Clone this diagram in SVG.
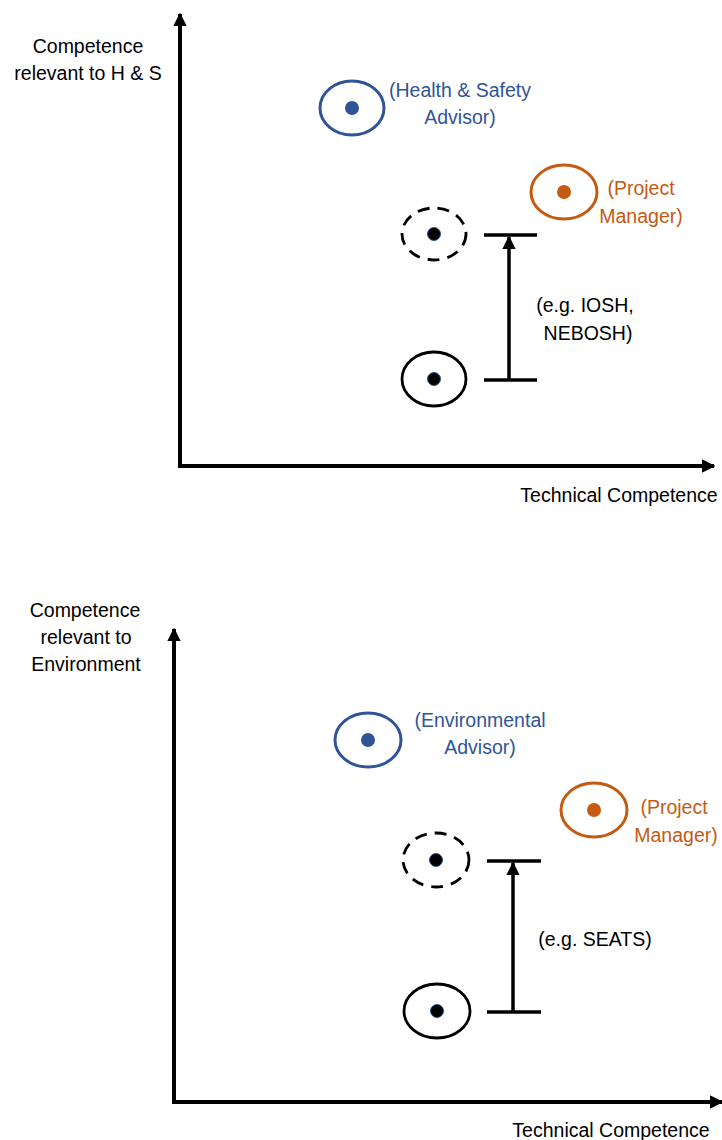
<svg xmlns="http://www.w3.org/2000/svg" width="722" height="1140" viewBox="0 0 722 1140">
<style>
text{font-family:"Liberation Sans",Arial,sans-serif;font-size:19.5px;text-anchor:middle}
.k{fill:#000}
.b{fill:#2F5597}
.o{fill:#C55A11}
.axis{stroke:#000;stroke-width:4;fill:none}
.bar{stroke:#000;stroke-width:3.5;fill:none}
.eb{fill:none;stroke:#2F5597;stroke-width:3}
.eo{fill:none;stroke:#C55A11;stroke-width:3}
.ek{fill:none;stroke:#000;stroke-width:2.8}
.ed{fill:none;stroke:#000;stroke-width:2.8;stroke-dasharray:12 8}
.db{fill:#2F5597}
.do{fill:#C55A11}
.dk{fill:#000;stroke:#2F5597;stroke-width:1}
</style>
<defs>
<marker id="ah" viewBox="0 0 10 10" refX="9" refY="5" markerWidth="3.4" markerHeight="3.4" orient="auto" markerUnits="strokeWidth">
<path d="M0,0 L10,5 L0,10 z" fill="#000"/>
</marker>
<marker id="ahs" viewBox="0 0 10 10" refX="9" refY="5" markerWidth="3.8" markerHeight="3.8" orient="auto" markerUnits="strokeWidth">
<path d="M0,0 L10,5 L0,10 z" fill="#000"/>
</marker>
</defs>

<g id="connectors">
<line class="axis" x1="180" y1="468" x2="180" y2="14" marker-end="url(#ah)"/>
<line class="axis" x1="178" y1="466" x2="714" y2="466" marker-end="url(#ah)"/>
<line class="bar" x1="484" y1="235" x2="537" y2="235"/>
<line class="bar" x1="484" y1="380" x2="537" y2="380"/>
<line class="bar" x1="509" y1="380" x2="509" y2="237" marker-end="url(#ahs)"/>

<line class="axis" x1="174" y1="1104" x2="174" y2="629" marker-end="url(#ah)"/>
<line class="axis" x1="172" y1="1102" x2="722" y2="1102" marker-end="url(#ah)"/>
<line class="bar" x1="487" y1="861" x2="541" y2="861"/>
<line class="bar" x1="487" y1="1012" x2="541" y2="1012"/>
<line class="bar" x1="513" y1="1012" x2="513" y2="863" marker-end="url(#ahs)"/>
</g>

<g id="axis-labels-top">
<text class="k" x="88" y="53">Competence</text>
<text class="k" x="88" y="80">relevant to H &amp; S</text>
<text class="k" x="619" y="502">Technical Competence</text>
</g>

<g id="hs-advisor">
<ellipse class="eb" cx="352" cy="108" rx="32" ry="27"/>
<circle class="db" cx="352" cy="108" r="7"/>
<text class="b" x="460" y="97">(Health &amp; Safety</text>
<text class="b" x="460" y="124">Advisor)</text>
</g>

<g id="pm-top">
<ellipse class="eo" cx="564" cy="192" rx="33" ry="27"/>
<circle class="do" cx="564" cy="192" r="7"/>
<text class="o" x="641" y="195">(Project</text>
<text class="o" x="641" y="223">Manager)</text>
</g>

<g id="target-top">
<ellipse class="ed" cx="434" cy="234" rx="32" ry="26"/>
<circle class="dk" cx="434" cy="234" r="6.5"/>
</g>

<g id="current-top">
<ellipse class="ek" cx="434" cy="379" rx="32" ry="27"/>
<circle class="dk" cx="434" cy="379" r="6.5"/>
</g>

<g id="training-top">
<text class="k" x="585" y="312">(e.g. IOSH,</text>
<text class="k" x="588" y="340">NEBOSH)</text>
</g>

<g id="axis-labels-bottom">
<text class="k" x="85" y="617">Competence</text>
<text class="k" x="86" y="644">relevant to</text>
<text class="k" x="86" y="671">Environment</text>
<text class="k" x="611" y="1137">Technical Competence</text>
</g>

<g id="env-advisor">
<ellipse class="eb" cx="368" cy="740" rx="33" ry="27"/>
<circle class="db" cx="368" cy="740" r="7"/>
<text class="b" x="480" y="727">(Environmental</text>
<text class="b" x="480" y="754">Advisor)</text>
</g>

<g id="pm-bottom">
<ellipse class="eo" cx="594" cy="810" rx="33" ry="27"/>
<circle class="do" cx="594" cy="810" r="7"/>
<text class="o" x="674" y="814">(Project</text>
<text class="o" x="676" y="842">Manager)</text>
</g>

<g id="target-bottom">
<ellipse class="ed" cx="436" cy="860" rx="33" ry="27"/>
<circle class="dk" cx="436" cy="860" r="6.5"/>
</g>

<g id="current-bottom">
<ellipse class="ek" cx="437" cy="1011" rx="33" ry="27"/>
<circle class="dk" cx="437" cy="1011" r="6.5"/>
</g>

<g id="training-bottom">
<text class="k" x="595" y="946">(e.g. SEATS)</text>
</g>
</svg>
